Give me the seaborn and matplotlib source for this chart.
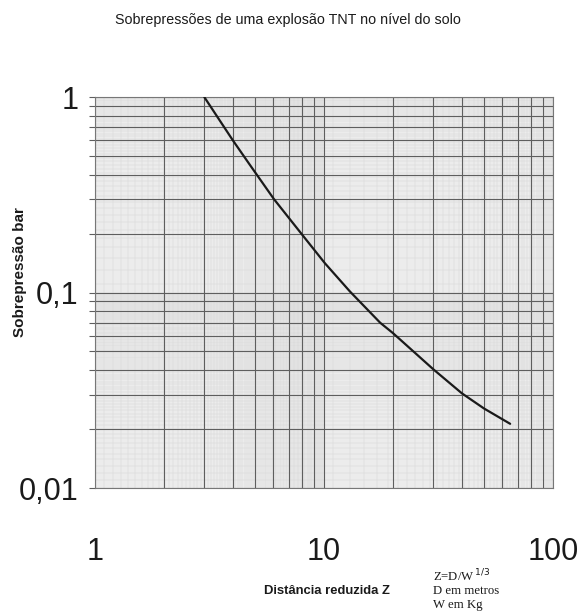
import numpy as np
import pandas as pd
import matplotlib
matplotlib.use("Agg")
import matplotlib.pyplot as plt
import seaborn as sns
from matplotlib.ticker import LogLocator, FixedLocator, FixedFormatter, NullFormatter

# ---- data ----
z_values = [3.0, 4.0, 4.75, 6.05, 8.1, 10.1, 13.0, 17.6, 20.0, 30.0, 40.0, 50.0, 65.0]
p_values = [1.0, 0.60, 0.449, 0.300, 0.195, 0.141, 0.101, 0.070, 0.062, 0.0405, 0.0305, 0.0255, 0.0213]
x_ticks = [1, 10, 100]
x_tick_labels = ["1", "10", "100"]
y_ticks = [0.01, 0.1, 1]
y_tick_labels = ["0,01", "0,1", "1"]

title = "Sobrepressões de uma explosão TNT no nível do solo"
xlabel = "Distância reduzida Z"
ylabel = "Sobrepressão bar"

df = pd.DataFrame({"Z": z_values, "P": p_values})

sns.set_theme(style="white")
plt.rcParams["font.family"] = ["Liberation Sans", "DejaVu Sans"]

fig = plt.figure(figsize=(5.8, 6.12), dpi=100)
ax = fig.add_axes([95 / 580, 1 - 488 / 612, (553 - 95) / 580, (488 - 97) / 612])
ax.set_facecolor("#ececec")

ax.set_xscale("log")
ax.set_yscale("log")
ax.set_xlim(1, 100)
ax.set_ylim(0.01, 1)

# faint fine paper grid
for dec in [1, 10]:
    for v in np.arange(1.1, 10.0, 0.1 if dec == 1 else 0.2):
        ax.axvline(v * dec, color="#d6d6d6", lw=0.35, zorder=0.5)
for dec in [0.01, 0.1]:
    for v in np.arange(1.1, 10.0, 0.1 if dec == 0.01 else 0.2):
        ax.axhline(v * dec, color="#d6d6d6", lw=0.35, zorder=0.5)

ax.xaxis.set_major_locator(FixedLocator(x_ticks))
ax.xaxis.set_major_formatter(FixedFormatter(x_tick_labels))
ax.yaxis.set_major_locator(FixedLocator(y_ticks))
ax.yaxis.set_major_formatter(FixedFormatter(y_tick_labels))
ax.xaxis.set_minor_locator(LogLocator(base=10, subs=np.arange(2, 10)))
ax.yaxis.set_minor_locator(LogLocator(base=10, subs=np.arange(2, 10)))
ax.xaxis.set_minor_formatter(NullFormatter())
ax.yaxis.set_minor_formatter(NullFormatter())

ax.grid(True, which="both", color="#5e5e5e", lw=0.8, zorder=1)
ax.set_axisbelow(True)

sns.lineplot(data=df, x="Z", y="P", ax=ax, color="#1a1a1a", lw=1.6, zorder=3)

ax.set_xlabel("")
ax.set_ylabel("")
ax.tick_params(axis="x", which="both", length=0, pad=35, labelsize=22, colors="#1a1a1a")
ax.tick_params(axis="y", which="both", length=4, width=0.8, color="#5e5e5e",
               direction="out", left=True, pad=8, labelsize=22, labelcolor="#1a1a1a")

for s in ax.spines.values():
    s.set_color("#777777")
    s.set_linewidth(0.8)

fig.text(288 / 580, 1 - 20 / 612, title, ha="center", va="center", fontsize=10.3,
         color="#1a1a1a")
fig.text(327 / 580, 1 - 591 / 612, xlabel, ha="center", va="center", fontsize=9.4,
         fontweight="bold", color="#1a1a1a")
fig.text(20 / 580, 1 - 272 / 612, ylabel, ha="center", va="center", rotation=90,
         fontsize=11, fontweight="bold", color="#1a1a1a")

serif = ["Liberation Serif", "DejaVu Serif"]
fig.text(433 / 580, 1 - 576 / 612, r"Z=D/W$^{\,1/3}$", ha="left", va="center", fontsize=9.2,
         family=serif, color="#1a1a1a")
fig.text(433 / 580, 1 - 591 / 612, "D em metros", ha="left", va="center", fontsize=9.2,
         family=serif, color="#1a1a1a")
fig.text(433 / 580, 1 - 605 / 612, "W em Kg", ha="left", va="center", fontsize=9.2,
         family=serif, color="#1a1a1a")

fig.savefig("out.png", dpi=100)
